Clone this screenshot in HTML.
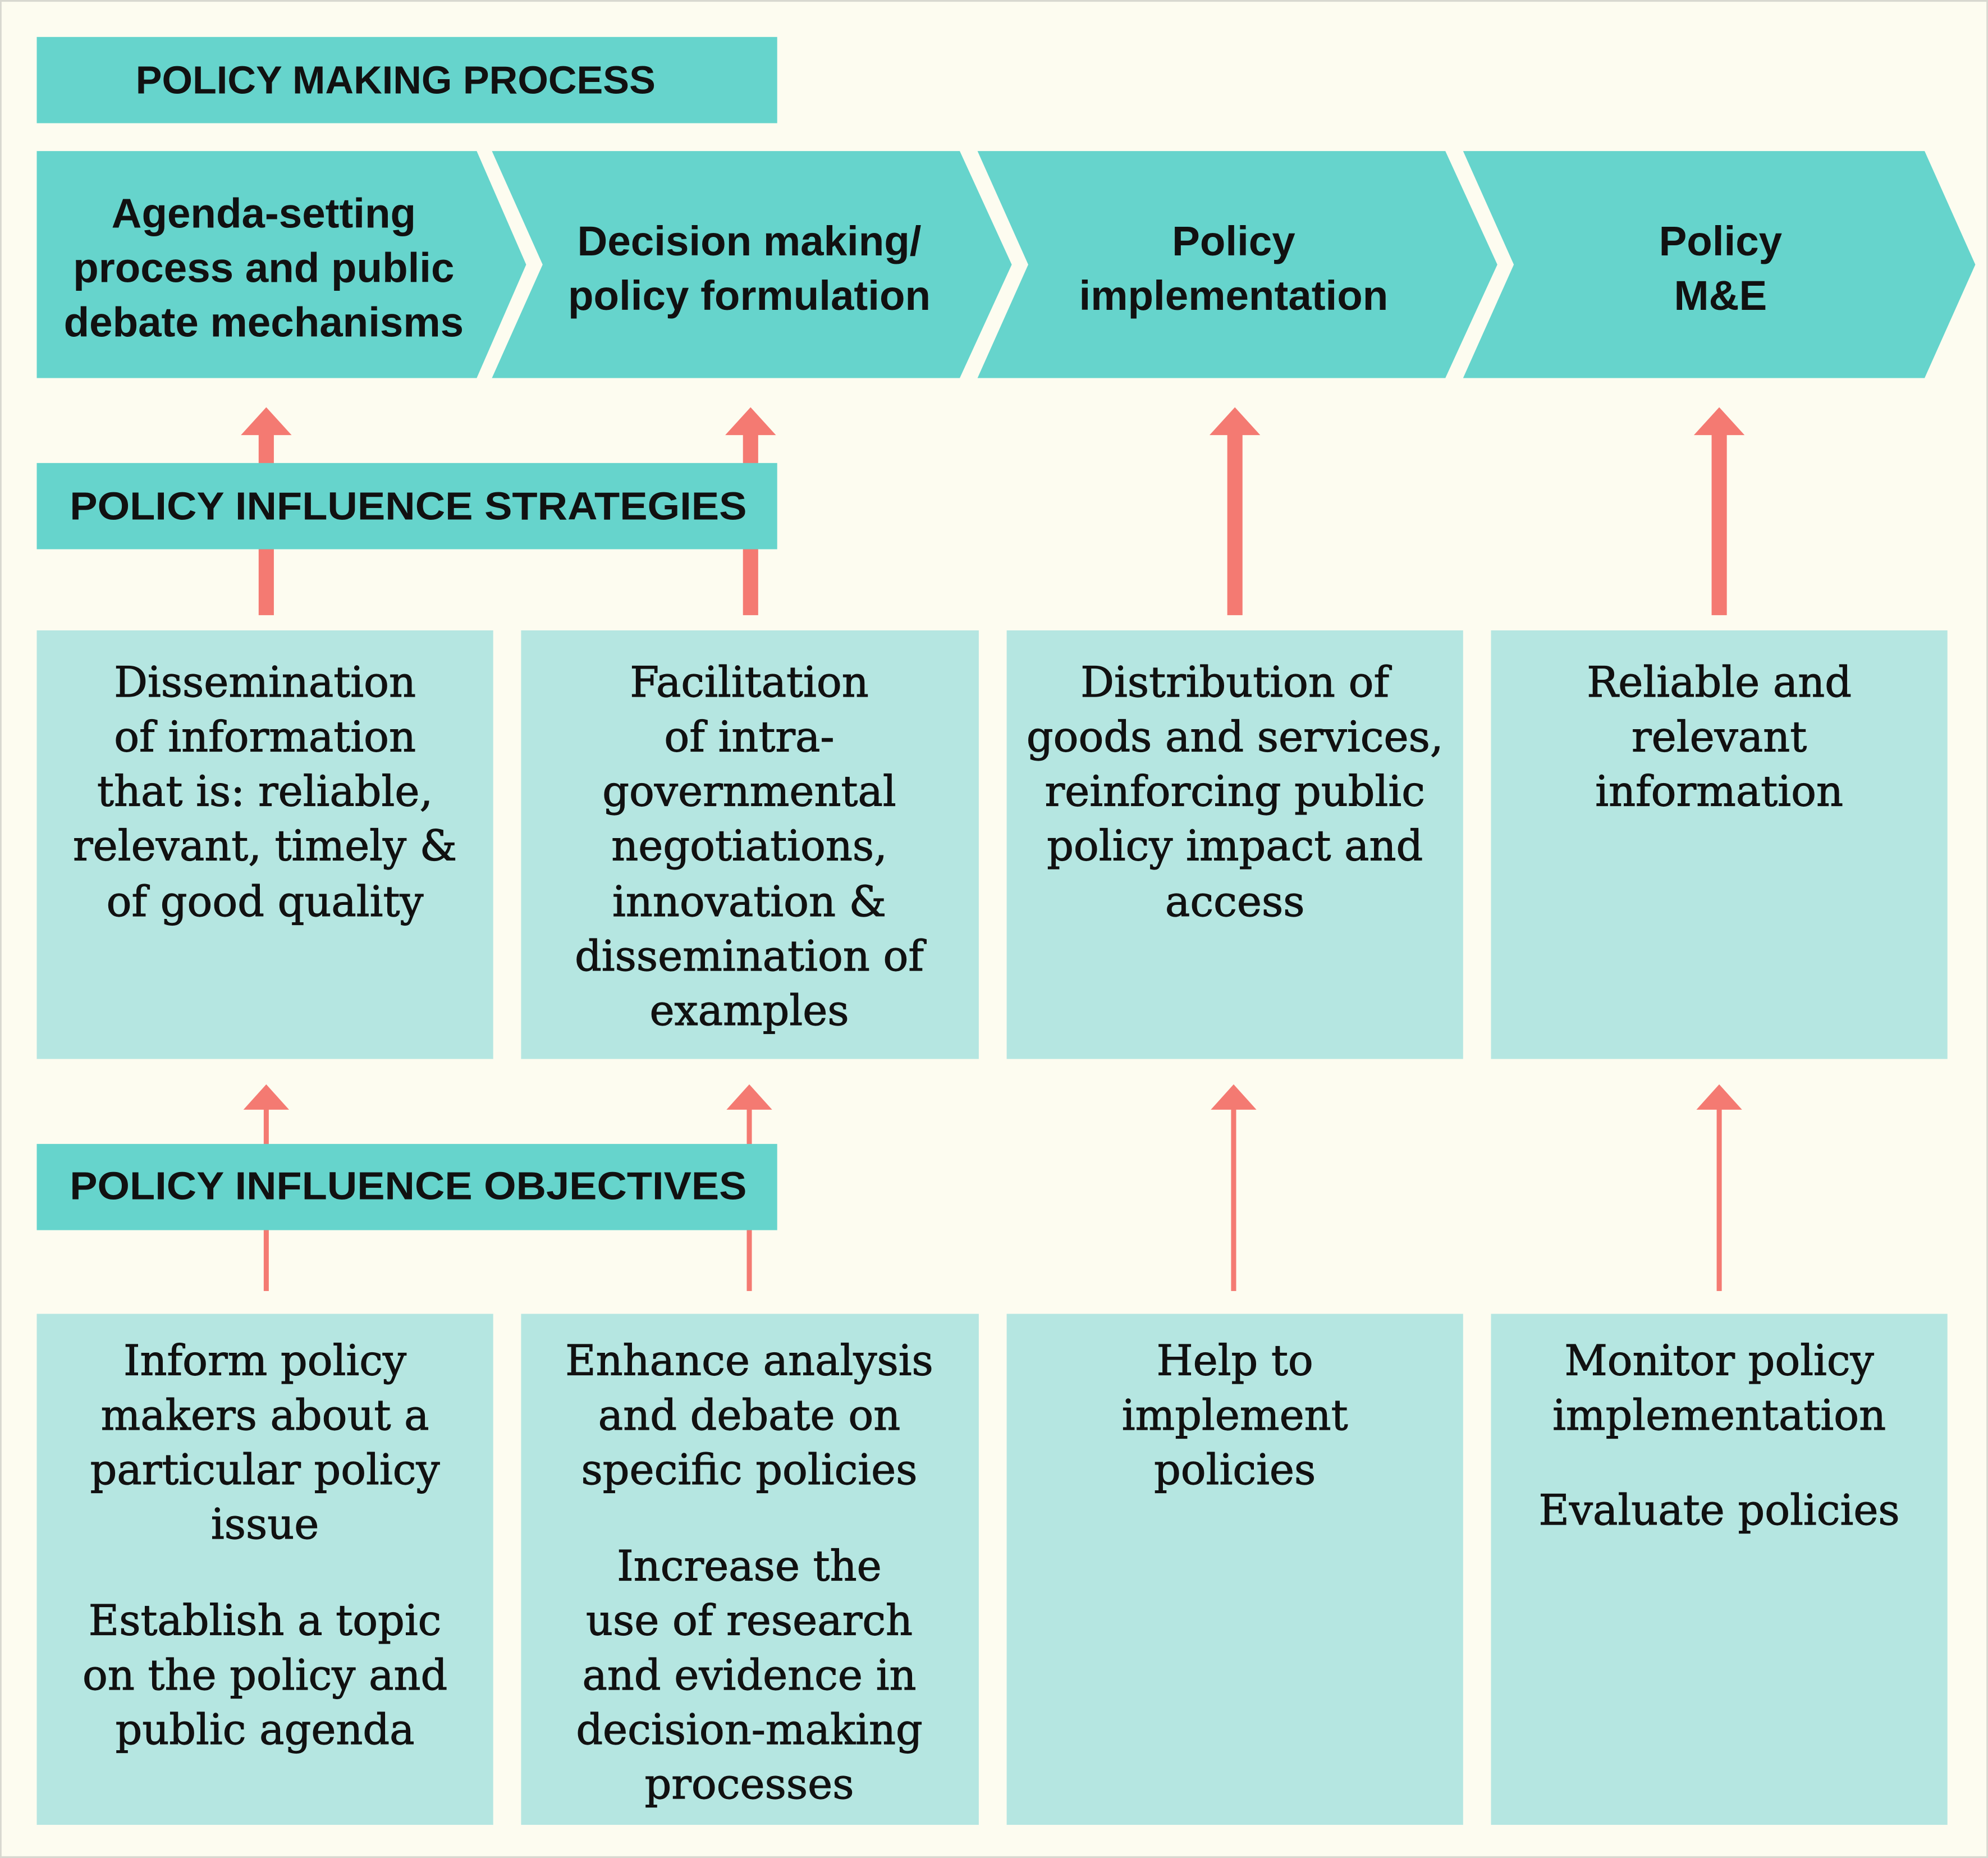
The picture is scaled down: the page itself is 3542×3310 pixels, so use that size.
<!DOCTYPE html>
<html><head><meta charset="utf-8"><style>
html,body{margin:0;padding:0;background:#fdfcf0;}
svg{display:block;}
.h{font-family:"Liberation Sans",sans-serif;font-weight:bold;font-size:31px;fill:#111;}
.c{font-family:"Liberation Sans",sans-serif;font-weight:bold;font-size:33px;fill:#111;}
.b{font-family:"DejaVu Serif",serif;font-size:33px;fill:#111;stroke:#111;stroke-width:0.5;}
</style></head><body>
<svg width="3542" height="3310" viewBox="0 0 1568 1465" xmlns="http://www.w3.org/2000/svg">
<rect x="0.5" y="0.5" width="1567" height="1464" fill="#fdfcf0" stroke="#d8d8d0" stroke-width="1.5"/>
<g fill="#66d4cc">
<rect x="29" y="29" width="584" height="68"/>
<polygon points="29,119 376,119 415,208.5 376,298 29,298"/>
<polygon points="388,119 757,119 798,208.5 757,298 388,298 428,208.5"/>
<polygon points="771,119 1140,119 1181,208.5 1140,298 771,298 811,208.5"/>
<polygon points="1154,119 1518,119 1558,208.5 1518,298 1154,298 1194,208.5"/>
</g>
<g fill="#f47a72">
<rect x="204" y="340" width="12" height="145"/><polygon points="190,343 230,343 210,321"/>
<rect x="586" y="340" width="12" height="145"/><polygon points="572,343 612,343 592,321"/>
<rect x="968" y="340" width="12" height="145"/><polygon points="954,343 994,343 974,321"/>
<rect x="1350" y="340" width="12" height="145"/><polygon points="1336,343 1376,343 1356,321"/>
<rect x="208" y="873" width="4" height="145"/><polygon points="192,875 228,875 210,855"/>
<rect x="589" y="873" width="4" height="145"/><polygon points="573,875 609,875 591,855"/>
<rect x="971" y="873" width="4" height="145"/><polygon points="955,875 991,875 973,855"/>
<rect x="1354" y="873" width="4" height="145"/><polygon points="1338,875 1374,875 1356,855"/>
</g>
<g fill="#66d4cc">
<rect x="29" y="365" width="584" height="68"/>
<rect x="29" y="902" width="584" height="68"/>
</g>
<g fill="#b5e6e1">
<rect x="29" y="497" width="360" height="338"/><rect x="411" y="497" width="361" height="338"/>
<rect x="794" y="497" width="360" height="338"/><rect x="1176" y="497" width="360" height="338"/>
<rect x="29" y="1036" width="360" height="403"/><rect x="411" y="1036" width="361" height="403"/>
<rect x="794" y="1036" width="360" height="403"/><rect x="1176" y="1036" width="360" height="403"/>
</g>
<g dominant-baseline="central" text-anchor="middle">
<text class="h" x="312" y="63" textLength="410" lengthAdjust="spacingAndGlyphs">POLICY MAKING PROCESS</text>
<text class="h" x="322" y="399" textLength="534" lengthAdjust="spacingAndGlyphs">POLICY INFLUENCE STRATEGIES</text>
<text class="h" x="322" y="935" textLength="534" lengthAdjust="spacingAndGlyphs">POLICY INFLUENCE OBJECTIVES</text>
<text class="c" x="208" y="168">Agenda-setting</text><text class="c" x="208" y="211">process and public</text><text class="c" x="208" y="254">debate mechanisms</text>
<text class="c" x="591" y="190">Decision making/</text><text class="c" x="591" y="233">policy formulation</text>
<text class="c" x="973" y="190">Policy</text><text class="c" x="973" y="233">implementation</text>
<text class="c" x="1357" y="190">Policy</text><text class="c" x="1357" y="233">M&amp;E</text>
<g class="b">
<text x="209" y="538">Dissemination</text><text x="209" y="581">of information</text><text x="209" y="624">that is: reliable,</text><text x="209" y="667">relevant, timely &amp;</text><text x="209" y="711">of good quality</text>
<text x="591" y="538">Facilitation</text><text x="591" y="581">of intra-</text><text x="591" y="624">governmental</text><text x="591" y="667">negotiations,</text><text x="591" y="711">innovation &amp;</text><text x="591" y="754">dissemination of</text><text x="591" y="797">examples</text>
<text x="974" y="538">Distribution of</text><text x="974" y="581">goods and services,</text><text x="974" y="624">reinforcing public</text><text x="974" y="667">policy impact and</text><text x="974" y="711">access</text>
<text x="1356" y="538">Reliable and</text><text x="1356" y="581">relevant</text><text x="1356" y="624">information</text>
<text x="209" y="1073">Inform policy</text><text x="209" y="1116">makers about a</text><text x="209" y="1159">particular policy</text><text x="209" y="1202">issue</text>
<text x="209" y="1278">Establish a topic</text><text x="209" y="1321">on the policy and</text><text x="209" y="1364">public agenda</text>
<text x="591" y="1073">Enhance analysis</text><text x="591" y="1116">and debate on</text><text x="591" y="1159">specific policies</text>
<text x="591" y="1235">Increase the</text><text x="591" y="1278">use of research</text><text x="591" y="1321">and evidence in</text><text x="591" y="1364">decision-making</text><text x="591" y="1407">processes</text>
<text x="974" y="1073">Help to</text><text x="974" y="1116">implement</text><text x="974" y="1159">policies</text>
<text x="1356" y="1073">Monitor policy</text><text x="1356" y="1116">implementation</text><text x="1356" y="1191">Evaluate policies</text>
</g>
</g>
</svg>
</body></html>
